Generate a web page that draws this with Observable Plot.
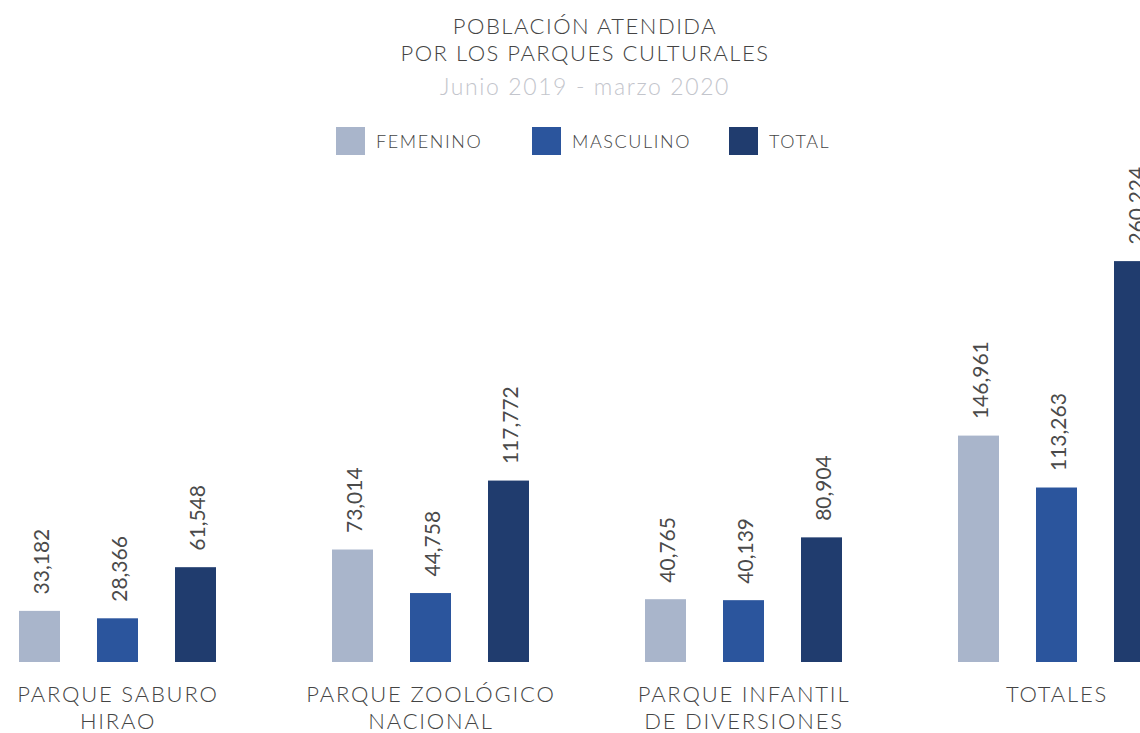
<!DOCTYPE html>
<html><head><meta charset="utf-8">
<script src="https://cdn.jsdelivr.net/npm/d3@7"></script>
<script src="https://cdn.jsdelivr.net/npm/@observablehq/plot@0.6"></script>
<style>
body{margin:0;background:#fff;overflow:hidden;font-family:Lato,"Open Sans",sans-serif;}
#wrap{position:relative;width:1140px;height:733px;overflow:hidden;background:#fff;}
.t{position:absolute;left:0;width:1170px;text-align:center;color:#444;font-size:22px;font-weight:300;letter-spacing:1.5px;line-height:1;}
.sub{color:#c3c5cc;font-size:23px;letter-spacing:1.6px;}
.it{position:absolute;top:127px;height:28px;display:flex;align-items:center;font-size:18px;font-weight:300;color:#444;letter-spacing:1.6px;}
.it .sw{width:29px;height:28px;margin-right:11px;}
#chart{position:absolute;left:0;top:170px;}
</style></head>
<body>
<div id="wrap">
  <div class="t" style="top:15px">POBLACIÓN ATENDIDA</div>
  <div class="t" style="top:42px">POR LOS PARQUES CULTURALES</div>
  <div class="t sub" style="top:75px">Junio 2019 - marzo 2020</div>
  <div id="legend"></div>
  <div id="chart"></div>
</div>
<script>
const parques = ["PARQUE SABURO\nHIRAO", "PARQUE ZOOLÓGICO\nNACIONAL", "PARQUE INFANTIL\nDE DIVERSIONES", "TOTALES"];
const series = ["FEMENINO", "MASCULINO", "TOTAL"];
const femenino = [33182, 73014, 40765, 146961];
const masculino = [28366, 44758, 40139, 113263];
const total = [61548, 117772, 80904, 260224];
const colores = ["#a9b5cb", "#2b559d", "#203c6e"];

const valores = [femenino, masculino, total];
const data = [];
parques.forEach((p, i) => series.forEach((s, j) => data.push({parque: p, serie: s, valor: valores[j][i]})));

// legend
const legend = document.getElementById("legend");
const lefts = [336, 532, 729];
series.forEach((s, j) => {
  const it = document.createElement("div");
  it.className = "it";
  it.style.left = lefts[j] + "px";
  const sw = document.createElement("div");
  sw.className = "sw";
  sw.style.background = colores[j];
  const tx = document.createElement("span");
  tx.textContent = s;
  it.appendChild(sw); it.appendChild(tx);
  legend.appendChild(it);
});

const fmt = d3.format(",");
const chart = Plot.plot({
  width: 1140,
  height: 563,
  marginTop: 93,
  marginBottom: 71,
  marginLeft: 0,
  marginRight: 0,
  style: {fontFamily: "Lato, 'Open Sans', sans-serif", overflow: "visible", background: "transparent"},
  fx: {domain: parques, range: [-19, 1192.5], paddingInner: 0.1356, paddingOuter: 0, label: null},
  x: {domain: series, paddingInner: 0.474, paddingOuter: 0.474, axis: null},
  y: {domain: [0, 259000], axis: null},
  color: {domain: series, range: colores},
  marks: [
    Plot.barY(data, {fx: "parque", x: "serie", y: "valor", fill: "serie"}),
    Plot.text(data, {fx: "parque", x: "serie", y: "valor", text: d => fmt(d.valor), rotate: -90, textAnchor: "start", dy: -17, dx: 2, fontSize: 21, fontWeight: 400, fill: "#4a4a4a"}),
    Plot.axisFx({anchor: "bottom", tickSize: 0, tickPadding: 21, fontSize: 22, fontWeight: 300, lineHeight: 1.2, label: null, fill: "#444"})
  ]
});
chart.querySelectorAll("[aria-label='fx-axis tick label'] text").forEach(t => t.style.letterSpacing = "1.8px");
document.getElementById("chart").appendChild(chart);
</script>
</body></html>
